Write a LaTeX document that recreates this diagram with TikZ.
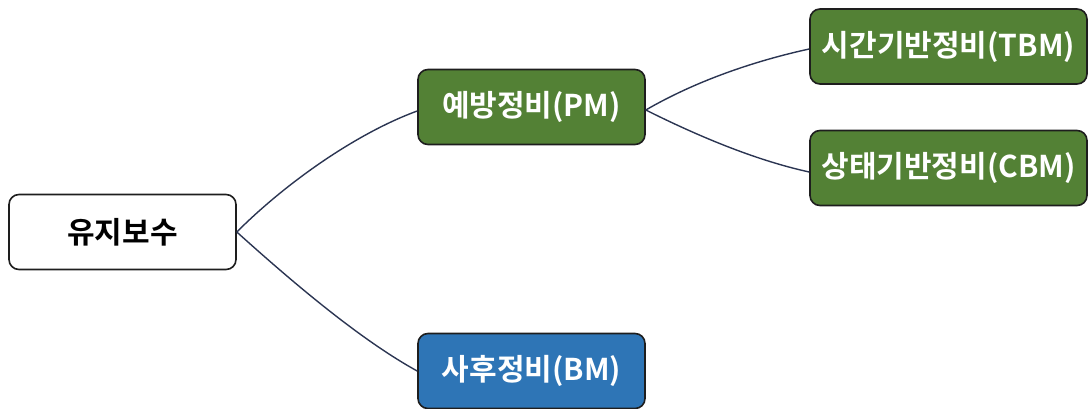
\documentclass[tikz,border=0pt]{standalone}
\usepackage{fontspec}
\newfontfamily\kr{Noto Sans CJK KR}[BoldFont={* Bold}]
\definecolor{pmgreen}{HTML}{538135}
\definecolor{bmblue}{HTML}{2E75B6}
\definecolor{edge}{HTML}{2B3552}
\definecolor{border}{HTML}{1E1E1E}
\begin{document}
\begin{tikzpicture}[x=1pt,y=-1pt,
  box/.style={draw=border, line width=1.6pt, rounded corners=10pt, minimum height=75pt, inner sep=0pt, font=\kr\bfseries\fontsize{30}{36}\selectfont},
  gbox/.style={box, fill=pmgreen, text=white},
  bbox/.style={box, fill=bmblue, text=white},
  wbox/.style={box, fill=white, text=black},
  conn/.style={draw=edge, line width=1.4pt}]
\useasboundingbox (0,0) rectangle (1089,409);
\node[wbox, minimum width=227pt] (root) at (122.5,232) {유지보수};
\node[gbox, minimum width=227pt] (pm) at (531.5,107) {예방정비(PM)};
\node[bbox, minimum width=227pt] (bm) at (531.5,371) {사후정비(BM)};
\node[gbox, minimum width=277pt] (tbm) at (948.5,46.5) {시간기반정비(TBM)};
\node[gbox, minimum width=277pt] (cbm) at (948.5,168) {상태기반정비(CBM)};
\draw[conn] (root.east) .. controls +(50,-50) and +(-60,22) .. ([yshift=-4pt]pm.west);
\draw[conn] (root.east) .. controls +(50,45) and +(-60,-33) .. (bm.west);
\draw[conn] ([yshift=-3pt]pm.east) .. controls +(50,-29) and +(-55,12) .. ([yshift=-2.5pt]tbm.west);
\draw[conn] ([yshift=-3pt]pm.east) .. controls +(50,25) and +(-55,-12) .. ([yshift=-4pt]cbm.west);
\end{tikzpicture}
\end{document}
